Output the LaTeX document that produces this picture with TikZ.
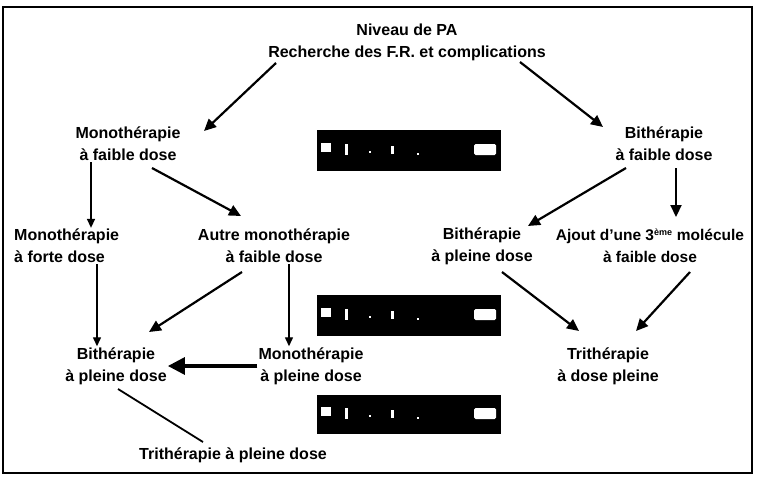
\documentclass[tikz,border=0pt]{standalone}
\usepackage{fontspec}
\setmainfont{Liberation Sans}
\usetikzlibrary{arrows.meta}
\begin{document}
\begin{tikzpicture}[x=1pt,y=-1pt,
  lbl/.style={font=\bfseries\fontsize{16}{22}\selectfont, align=center, inner sep=1pt},
  lbll/.style={lbl, align=left},
  arr/.style={line width=2.2pt, -{Triangle[length=12pt,width=11pt]}},
  thinarr/.style={line width=1.4pt, -{Triangle[length=9pt,width=8pt]}},
  bigarr/.style={line width=3.2pt, -{Triangle[length=17pt,width=17pt]}},
  blackbox/.style={fill=black, draw=black, minimum width=183pt, minimum height=40pt, inner sep=0pt}
]
\useasboundingbox (0,0) rectangle (766,479);
\draw[line width=1.2pt] (3,7) rectangle (752,473);

\node[lbl] (top) at (407,42) {Niveau de PA\\Recherche des F.R. et complications};
\node[lbl] (mfa) at (128,144) {Monothérapie\\à faible dose};
\node[lbl] (bfa) at (664,144) {Bithérapie\\à faible dose};
\node[lbll, anchor=west] (mfo) at (13,246) {Monothérapie\\à forte dose};
\node[lbl] (amf) at (274,246) {Autre monothérapie\\à faible dose};
\node[lbl] (bpr) at (482,246) {Bithérapie\\à pleine dose};
\node[lbl, font=\bfseries\fontsize{15.5}{22}\selectfont] (aj) at (650,246) {Ajout d'une 3\textsuperscript{\fontsize{9}{9}\selectfont ème} molécule\\à faible dose};
\node[lbl] (bpl) at (116,366) {Bithérapie\\à pleine dose};
\node[lbl] (mpl) at (311,366) {Monothérapie\\à pleine dose};
\node[lbl] (tdp) at (608,366) {Trithérapie\\à dose pleine};
\node[lbl] (tpd) at (233,455) {Trithérapie à pleine dose};

\node[blackbox] (box1) at (408.5,150) {};
\node[blackbox] (box2) at (408.5,315) {};
\node[blackbox, minimum height=38pt] (box3) at (408.5,414) {};
\foreach \b in {box1,box2,box3}{
  \fill[white] ([xshift=4pt,yshift=-2pt]\b.west) rectangle ++(10pt,9pt);
  \fill[white, rounded corners=1.5pt] ([xshift=-4pt,yshift=-5pt]\b.east) rectangle ++(-22pt,11pt);
  \fill[white] ([xshift=28pt,yshift=-5pt]\b.west) rectangle ++(3pt,11pt);
  \fill[white] ([xshift=52pt,yshift=-3pt]\b.west) rectangle ++(2pt,2pt);
  \fill[white] ([xshift=74pt,yshift=-4pt]\b.west) rectangle ++(3pt,8pt);
  \fill[white] ([xshift=100pt,yshift=-5pt]\b.west) rectangle ++(2pt,2pt);
}

\coordinate (t1) at (276,63);
\coordinate (t2) at (520,62);
\draw[arr] (t1) -- (204,131);
\draw[arr] (t2) -- (603,127);
\draw[thinarr] (mfa.south -| 91,0) -- (mfo.north -| 91,0);
\draw[arr] (152,168) -- (241,216);
\draw[thinarr] (mfo.south -| 97,0) -- (bpl.north -| 97,0);
\draw[arr] (242,272) -- (149,332);
\draw[thinarr] (amf.south -| 289,0) -- (mpl.north -| 289,0);
\draw[bigarr] (mpl.west) -- (bpl.east);
\draw[line width=1.8pt] (118,389) -- (203,442);
\draw[arr] (626,168) -- (528,226);
\draw[arr] (676,168) -- (676,217);
\draw[arr] (502,272) -- (579,331);
\draw[arr] (690,272) -- (636,331);
\end{tikzpicture}
\end{document}
